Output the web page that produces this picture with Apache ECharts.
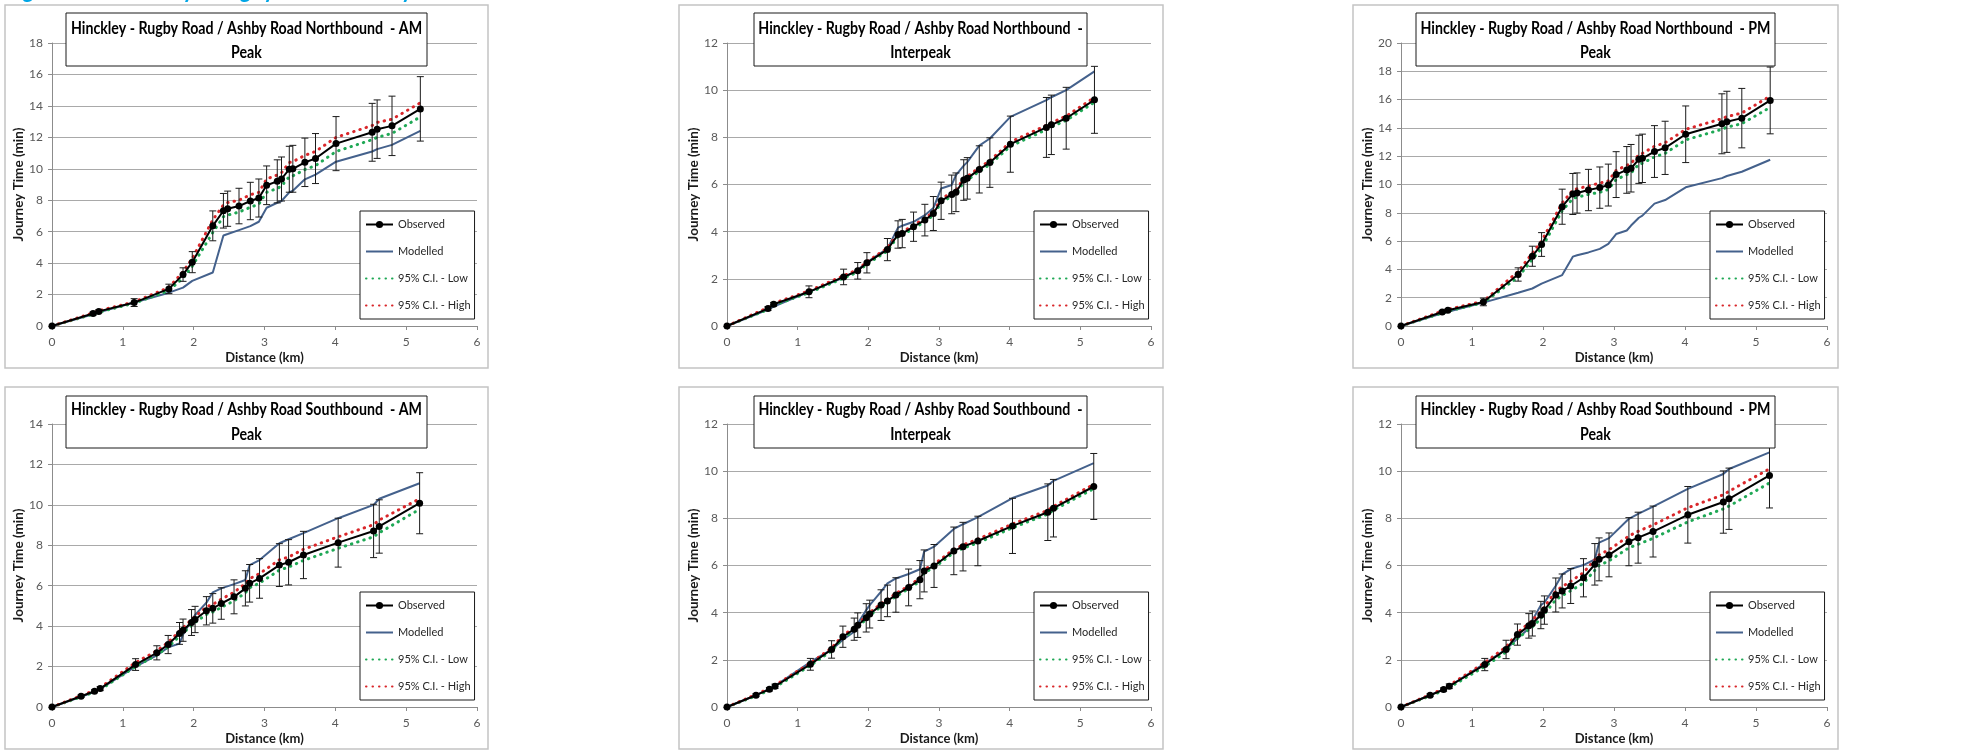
<!DOCTYPE html>
<html><head><meta charset="utf-8">
<script src="https://cdn.jsdelivr.net/npm/echarts@6/dist/echarts.min.js"></script>
<style>html,body{margin:0;padding:0;background:#fff}#c{width:1979px;height:750px}</style>
</head><body><div id="c"></div>
<script>
// ---------- DATA ----------
const distNB = [0, 0.58, 0.66, 1.16, 1.65, 1.85, 1.98, 2.27, 2.42, 2.48, 2.64, 2.80, 2.92, 3.03, 3.18, 3.24, 3.35, 3.40, 3.57, 3.72, 4.01, 4.52, 4.59, 4.80, 5.20];
const distSB = [0, 0.41, 0.60, 0.68, 1.18, 1.48, 1.64, 1.80, 1.85, 1.97, 2.02, 2.18, 2.27, 2.39, 2.57, 2.73, 2.79, 2.93, 3.21, 3.34, 3.55, 4.04, 4.54, 4.62, 5.19];

const nbAmObs  = [0, 0.79, 0.93, 1.49, 2.36, 3.27, 4.06, 6.37, 7.33, 7.46, 7.63, 7.95, 8.14, 8.95, 9.20, 9.35, 9.97, 10.00, 10.41, 10.65, 11.60, 12.32, 12.52, 12.73, 13.81];
const nbAmMod  = [0, 0.75, 0.88, 1.50, 2.12, 2.44, 2.87, 3.40, 5.76, 5.85, 6.10, 6.35, 6.63, 7.52, 7.84, 7.95, 8.50, 8.60, 9.33, 9.63, 10.45, 11.10, 11.25, 11.52, 12.41];
const nbAmLow  = [0, 0.75, 0.88, 1.45, 2.25, 3.05, 3.80, 5.95, 6.95, 7.05, 7.25, 7.55, 7.75, 8.50, 8.75, 8.90, 9.50, 9.55, 9.95, 10.20, 11.10, 11.85, 12.00, 12.25, 13.30];
const nbAmHigh = [0, 0.83, 0.97, 1.53, 2.45, 3.45, 4.30, 6.75, 7.70, 7.85, 8.00, 8.35, 8.50, 9.35, 9.60, 9.75, 10.40, 10.45, 10.85, 11.10, 12.00, 12.75, 12.95, 13.15, 14.20];
const nbAmErr  = [0, 0.10, 0.10, 0.25, 0.30, 0.43, 0.67, 0.95, 1.10, 1.12, 1.13, 1.19, 1.21, 1.23, 1.37, 1.40, 1.46, 1.49, 1.54, 1.59, 1.72, 1.84, 1.86, 1.89, 2.05];

const nbIpObs  = [0, 0.74, 0.92, 1.45, 2.08, 2.34, 2.68, 3.24, 3.88, 3.92, 4.21, 4.49, 4.77, 5.31, 5.58, 5.67, 6.19, 6.26, 6.64, 6.93, 7.71, 8.42, 8.53, 8.81, 9.59];
const nbIpMod  = [0, 0.70, 0.82, 1.45, 2.05, 2.38, 2.70, 3.28, 4.17, 4.25, 4.42, 4.70, 5.00, 5.83, 5.98, 6.40, 6.80, 6.95, 7.65, 7.95, 8.87, 9.58, 9.70, 10.00, 10.80];
const nbIpLow  = [0, 0.70, 0.88, 1.41, 2.03, 2.29, 2.63, 3.18, 3.81, 3.85, 4.14, 4.42, 4.70, 5.23, 5.50, 5.59, 6.11, 6.18, 6.56, 6.85, 7.62, 8.33, 8.44, 8.72, 9.49];
const nbIpHigh = [0, 0.78, 0.96, 1.49, 2.13, 2.39, 2.73, 3.30, 3.95, 3.99, 4.28, 4.56, 4.84, 5.39, 5.66, 5.75, 6.27, 6.34, 6.72, 7.01, 7.80, 8.51, 8.62, 8.90, 9.69];
const nbIpErr  = [0, 0.08, 0.08, 0.25, 0.33, 0.35, 0.43, 0.47, 0.58, 0.60, 0.62, 0.67, 0.72, 0.79, 0.82, 0.82, 0.86, 0.88, 1.00, 1.05, 1.19, 1.27, 1.26, 1.31, 1.42];

const nbPmObs  = [0, 0.99, 1.11, 1.70, 3.64, 4.93, 5.76, 8.43, 9.33, 9.40, 9.61, 9.78, 9.96, 10.70, 11.03, 11.15, 11.78, 11.85, 12.33, 12.59, 13.55, 14.29, 14.43, 14.69, 15.94];
const nbPmMod  = [0, 0.90, 1.00, 1.65, 2.35, 2.65, 3.00, 3.60, 4.90, 5.00, 5.20, 5.45, 5.80, 6.50, 6.75, 7.10, 7.65, 7.80, 8.65, 8.90, 9.80, 10.45, 10.60, 10.90, 11.75];
const nbPmLow  = [0, 0.92, 1.05, 1.65, 3.45, 4.70, 5.50, 8.15, 9.00, 9.10, 9.30, 9.45, 9.65, 10.35, 10.70, 10.80, 11.45, 11.50, 11.95, 12.20, 13.15, 13.90, 14.05, 14.30, 15.45];
const nbPmHigh = [0, 1.05, 1.17, 1.75, 3.85, 5.15, 6.00, 8.70, 9.60, 9.70, 9.90, 10.10, 10.25, 11.00, 11.35, 11.50, 12.10, 12.20, 12.70, 12.95, 13.90, 14.65, 14.80, 15.05, 16.25];
const nbPmErr  = [0, 0.08, 0.08, 0.27, 0.47, 0.71, 0.84, 1.24, 1.45, 1.42, 1.46, 1.46, 1.48, 1.62, 1.65, 1.68, 1.70, 1.71, 1.83, 1.88, 2.00, 2.12, 2.16, 2.10, 2.36];

const sbAmObs  = [0, 0.53, 0.78, 0.91, 2.10, 2.68, 3.09, 3.64, 3.80, 4.18, 4.33, 4.76, 4.88, 5.12, 5.45, 5.87, 6.12, 6.36, 7.02, 7.16, 7.52, 8.13, 8.71, 8.93, 10.08];
const sbAmMod  = [0, 0.50, 0.75, 0.90, 2.00, 2.55, 2.95, 3.14, 3.59, 4.30, 4.55, 5.16, 5.67, 5.87, 6.08, 6.28, 7.02, 7.27, 8.10, 8.30, 8.60, 9.34, 10.00, 10.30, 11.07];
const sbAmLow  = [0, 0.50, 0.74, 0.86, 2.00, 2.57, 2.97, 3.50, 3.66, 4.03, 4.18, 4.58, 4.70, 4.93, 5.25, 5.65, 5.90, 6.13, 6.77, 6.92, 7.25, 7.85, 8.42, 8.62, 9.78];
const sbAmHigh = [0, 0.56, 0.82, 0.96, 2.20, 2.78, 3.20, 3.75, 3.92, 4.32, 4.48, 4.95, 5.08, 5.33, 5.68, 6.10, 6.35, 6.60, 7.28, 7.42, 7.80, 8.42, 9.02, 9.25, 10.30];
const sbAmErr  = [0, 0.06, 0.07, 0.10, 0.29, 0.35, 0.45, 0.54, 0.55, 0.64, 0.65, 0.70, 0.73, 0.78, 0.84, 0.87, 0.93, 0.98, 1.06, 1.12, 1.17, 1.21, 1.32, 1.32, 1.51];

const sbIpObs  = [0, 0.50, 0.75, 0.88, 1.81, 2.44, 2.98, 3.30, 3.47, 3.78, 3.94, 4.32, 4.50, 4.75, 5.07, 5.40, 5.77, 5.98, 6.62, 6.80, 7.04, 7.68, 8.26, 8.43, 9.35];
const sbIpMod  = [0, 0.50, 0.77, 0.90, 1.91, 2.43, 2.85, 3.19, 3.54, 4.11, 4.32, 4.89, 5.24, 5.45, 5.64, 5.84, 6.59, 6.80, 7.55, 7.75, 8.05, 8.86, 9.39, 9.59, 10.34];
const sbIpLow  = [0, 0.47, 0.71, 0.84, 1.76, 2.38, 2.92, 3.24, 3.41, 3.72, 3.88, 4.26, 4.44, 4.69, 5.01, 5.33, 5.70, 5.91, 6.55, 6.73, 6.96, 7.60, 8.18, 8.35, 9.26];
const sbIpHigh = [0, 0.53, 0.79, 0.92, 1.86, 2.50, 3.04, 3.36, 3.53, 3.84, 4.00, 4.38, 4.56, 4.81, 5.13, 5.47, 5.84, 6.05, 6.69, 6.87, 7.12, 7.76, 8.34, 8.51, 9.44];
const sbIpErr  = [0, 0.06, 0.07, 0.09, 0.25, 0.37, 0.45, 0.47, 0.52, 0.60, 0.59, 0.65, 0.67, 0.73, 0.78, 0.81, 0.89, 0.91, 1.01, 1.03, 1.05, 1.17, 1.20, 1.22, 1.40];

const sbPmObs  = [0, 0.50, 0.74, 0.88, 1.80, 2.44, 3.07, 3.44, 3.54, 3.90, 4.11, 4.75, 4.92, 5.13, 5.48, 6.05, 6.26, 6.45, 7.01, 7.18, 7.44, 8.15, 8.69, 8.83, 9.82];
const sbPmMod  = [0, 0.50, 0.75, 0.88, 1.85, 2.45, 2.90, 3.33, 3.68, 4.32, 4.43, 5.14, 5.62, 5.85, 6.02, 6.26, 6.97, 7.16, 7.98, 8.19, 8.50, 9.25, 9.88, 10.09, 10.80];
const sbPmLow  = [0, 0.47, 0.70, 0.83, 1.72, 2.33, 2.90, 3.28, 3.40, 3.75, 3.95, 4.55, 4.72, 4.93, 5.25, 5.80, 6.00, 6.20, 6.75, 6.90, 7.15, 7.85, 8.40, 8.52, 9.50];
const sbPmHigh = [0, 0.52, 0.78, 0.92, 1.88, 2.55, 3.15, 3.55, 3.68, 4.05, 4.25, 4.92, 5.10, 5.33, 5.70, 6.25, 6.45, 6.67, 7.25, 7.45, 7.72, 8.45, 9.00, 9.15, 10.10];
const sbPmErr  = [0, 0.06, 0.07, 0.10, 0.26, 0.39, 0.45, 0.52, 0.53, 0.58, 0.60, 0.72, 0.72, 0.74, 0.81, 0.88, 0.91, 0.93, 1.02, 1.08, 1.08, 1.20, 1.32, 1.30, 1.38];

const yMaxes = [18, 12, 20, 14, 12, 12];
const titleLine1 = [
  'Hinckley - Rugby Road / Ashby Road Northbound  - AM',
  'Hinckley - Rugby Road / Ashby Road Northbound  -',
  'Hinckley - Rugby Road / Ashby Road Northbound  - PM',
  'Hinckley - Rugby Road / Ashby Road Southbound  - AM',
  'Hinckley - Rugby Road / Ashby Road Southbound  -',
  'Hinckley - Rugby Road / Ashby Road Southbound  - PM'
];
const titleLine2 = ['Peak', 'Interpeak', 'Peak', 'Peak', 'Interpeak', 'Peak'];
const seriesNames = ['Observed', 'Modelled', '95% C.I. - Low', '95% C.I. - High'];
const headerText = 'Figure 10: Hinckley - Rugby Road / Ashby Road';
const xAxisName = 'Distance (km)';
const yAxisName = 'Journey Time (min)';

// ---------- LAYOUT ----------
const FONT = "Lato, 'Open Sans', sans-serif";
const COLS = [
  {plotL: 52, plotW: 425, bx0: 5, bx1: 488, tx0: 66, tx1: 427, legL: 360},
  {plotL: 727, plotW: 424, bx0: 679, bx1: 1163, tx0: 754, tx1: 1087, legL: 1034},
  {plotL: 1401, plotW: 426, bx0: 1353, bx1: 1838, tx0: 1416, tx1: 1775, legL: 1710}
];
const ROWS = [
  {plotT: 43, plotH: 283, by0: 5, by1: 368, ty0: 13, ty1: 66, l1: 29, l2: 53, legT: 211},
  {plotT: 424, plotH: 283, by0: 387, by1: 749, ty0: 396, ty1: 448, l1: 410, l2: 435, legT: 592}
];

const panelData = [
  [distNB, nbAmObs, nbAmMod, nbAmLow, nbAmHigh, nbAmErr],
  [distNB, nbIpObs, nbIpMod, nbIpLow, nbIpHigh, nbIpErr],
  [distNB, nbPmObs, nbPmMod, nbPmLow, nbPmHigh, nbPmErr],
  [distSB, sbAmObs, sbAmMod, sbAmLow, sbAmHigh, sbAmErr],
  [distSB, sbIpObs, sbIpMod, sbIpLow, sbIpHigh, sbIpErr],
  [distSB, sbPmObs, sbPmMod, sbPmLow, sbPmHigh, sbPmErr]
];

const C_OBS = '#000000', C_MOD = '#44618c', C_LOW = '#1fa855', C_HIGH = '#d9262a';
const pairs = (xs, ys) => xs.map((x, i) => [x, ys[i]]);

function renderErr(params, api) {
  const x = api.value(0), lo = api.value(1), hi = api.value(2);
  if (!(hi - lo > 0)) return null;
  const a = api.coord([x, hi]), b = api.coord([x, lo]);
  const w = 3.5;
  const st = {stroke: '#1a1a1a', lineWidth: 1};
  return {type: 'group', children: [
    {type: 'line', shape: {x1: a[0], y1: a[1], x2: b[0], y2: b[1]}, style: st},
    {type: 'line', shape: {x1: a[0] - w, y1: a[1], x2: a[0] + w, y2: a[1]}, style: st},
    {type: 'line', shape: {x1: b[0] - w, y1: b[1], x2: b[0] + w, y2: b[1]}, style: st}
  ]};
}

const grids = [], xAxes = [], yAxes = [], series = [], legends = [], graphics = [];

graphics.push({type: 'text', z: 200, x: 4, y: 3, scaleX: 0.85, style: {text: headerText, x: 0, y: 0, textAlign: 'left', textVerticalAlign: 'bottom',
  font: "bold 26px " + FONT, fill: '#00a6e6'}});

const legendItems = [
  {name: seriesNames[0]},
  {name: seriesNames[1], itemStyle: {opacity: 0}},
  {name: seriesNames[2], itemStyle: {opacity: 0}},
  {name: seriesNames[3], itemStyle: {opacity: 0}}
];

panelData.forEach((pd, i) => {
  const col = COLS[i % 3], row = ROWS[Math.floor(i / 3)];
  const [dist, obs, mod, low, high, err] = pd;
  grids.push({left: col.plotL, top: row.plotT, width: col.plotW, height: row.plotH, containLabel: false});
  xAxes.push({
    type: 'value', gridIndex: i, min: 0, max: 6, interval: 1,
    axisLine: {show: true, lineStyle: {color: '#8c8c8c', width: 1}},
    axisTick: {show: true, length: 4, lineStyle: {color: '#8c8c8c'}},
    splitLine: {show: false},
    axisLabel: {fontFamily: FONT, fontSize: 12, color: '#595959', margin: 10},
    name: xAxisName, nameLocation: 'middle', nameGap: 25,
    nameTextStyle: {fontFamily: FONT, fontSize: 13, fontWeight: 'bold', color: '#1a1a1a'}
  });
  yAxes.push({
    type: 'value', gridIndex: i, min: 0, max: yMaxes[i], interval: 2,
    axisLine: {show: true, lineStyle: {color: '#8c8c8c', width: 1}},
    axisTick: {show: true, length: 4, lineStyle: {color: '#8c8c8c'}},
    splitLine: {show: true, lineStyle: {color: '#a9a9a9', width: 1}},
    axisLabel: {fontFamily: FONT, fontSize: 12, color: '#595959', margin: 9},
    name: yAxisName, nameLocation: 'middle', nameGap: 22, nameRotate: 90,
    nameTextStyle: {fontFamily: FONT, fontSize: 13.5, fontWeight: 'bold', color: '#1a1a1a'}
  });
  series.push({
    name: seriesNames[1], type: 'line', xAxisIndex: i, yAxisIndex: i, data: pairs(dist, mod),
    symbol: 'none', showSymbol: false, lineStyle: {color: C_MOD, width: 2}, itemStyle: {color: C_MOD}, z: 2
  });
  series.push({
    name: seriesNames[2], type: 'line', xAxisIndex: i, yAxisIndex: i, data: pairs(dist, low),
    symbol: 'none', showSymbol: false, lineStyle: {color: C_LOW, width: 3, type: [0.5, 6], cap: 'round'},
    itemStyle: {color: C_LOW}, z: 3
  });
  series.push({
    name: seriesNames[3], type: 'line', xAxisIndex: i, yAxisIndex: i, data: pairs(dist, high),
    symbol: 'none', showSymbol: false, lineStyle: {color: C_HIGH, width: 3, type: [0.5, 6], cap: 'round'},
    itemStyle: {color: C_HIGH}, z: 3
  });
  series.push({
    name: 'errorbars', type: 'custom', xAxisIndex: i, yAxisIndex: i,
    data: dist.map((d, k) => [d, obs[k] - err[k], obs[k] + err[k]]),
    encode: {x: 0, y: [1, 2]}, renderItem: renderErr, z: 4, silent: true
  });
  series.push({
    name: seriesNames[0], type: 'line', xAxisIndex: i, yAxisIndex: i, data: pairs(dist, obs),
    symbol: 'circle', symbolSize: 7, showSymbol: true, lineStyle: {color: C_OBS, width: 2},
    itemStyle: {color: C_OBS}, z: 5
  });
  legends.push({
    data: legendItems, orient: 'vertical', left: col.legL, top: row.legT,
    itemWidth: 27, itemHeight: 9, itemGap: 16, padding: [8, 4, 8, 5],
    borderColor: '#1a1a1a', borderWidth: 1, backgroundColor: '#ffffff',
    textStyle: {fontFamily: FONT, fontSize: 11, color: '#262626'},
    selectedMode: false
  });
  graphics.push({type: 'rect', z: -1, shape: {x: col.bx0, y: row.by0, width: col.bx1 - col.bx0, height: row.by1 - row.by0},
    style: {fill: 'none', stroke: '#c4c4c4', lineWidth: 1.5}});
  graphics.push({type: 'rect', z: 50, shape: {x: col.tx0, y: row.ty0, width: col.tx1 - col.tx0, height: row.ty1 - row.ty0},
    style: {fill: '#ffffff', stroke: '#1a1a1a', lineWidth: 1}});
  const cx = (col.tx0 + col.tx1) / 2;
  graphics.push({type: 'text', z: 51, x: cx, y: row.l1, scaleX: 0.86, style: {text: titleLine1[i], x: 0, y: 0,
    textAlign: 'center', textVerticalAlign: 'middle', font: "bold 16.5px " + FONT, fill: '#000'}});
  graphics.push({type: 'text', z: 51, x: cx, y: row.l2, scaleX: 0.86, style: {text: titleLine2[i], x: 0, y: 0,
    textAlign: 'center', textVerticalAlign: 'middle', font: "bold 16.5px " + FONT, fill: '#000'}});
});

const chart = echarts.init(document.getElementById('c'), null, {renderer: 'canvas'});
chart.setOption({
  backgroundColor: '#ffffff',
  animation: false,
  grid: grids, xAxis: xAxes, yAxis: yAxes, series: series, legend: legends,
  graphic: {elements: graphics}
});
</script></body></html>
